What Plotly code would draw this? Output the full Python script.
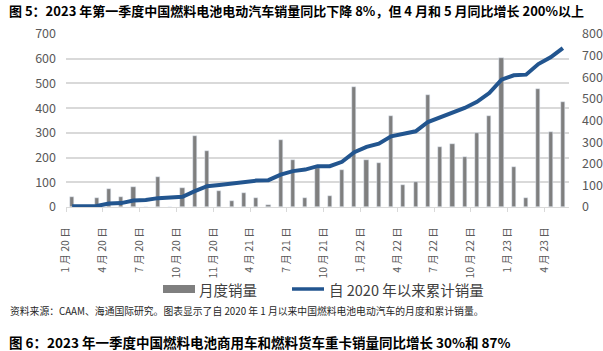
import plotly.graph_objects as go

# ---- data ----
months = ["1 月 20 日", "2 月 20 日", "3 月 20 日", "4 月 20 日", "5 月 20 日", "6 月 20 日",
          "7 月 20 日", "8 月 20 日", "9 月 20 日", "10 月 20 日", "11 月 20 日", "12 月 20 日",
          "1 月 21 日", "2 月 21 日", "3 月 21 日", "4 月 21 日", "5 月 21 日", "6 月 21 日",
          "7 月 21 日", "8 月 21 日", "9 月 21 日", "10 月 21 日", "11 月 21 日", "12 月 21 日",
          "1 月 22 日", "2 月 22 日", "3 月 22 日", "4 月 22 日", "5 月 22 日", "6 月 22 日",
          "7 月 22 日", "8 月 22 日", "9 月 22 日", "10 月 22 日", "11 月 22 日", "12 月 22 日",
          "1 月 23 日", "2 月 23 日", "3 月 23 日", "4 月 23 日", "5 月 23 日"]
monthly_sales = [41, 0, 36, 72, 41, 82, 2, 122, 2, 76, 288, 228, 63, 26, 56, 37, 7, 273, 192, 37,
                 157, 45, 148, 484, 192, 179, 369, 91, 102, 454, 243, 253, 201, 299, 369, 604, 162,
                 37, 479, 304, 423]
cumulative_sales = [4, 4, 5, 16, 18, 30, 32, 41, 42, 47, 73, 96, 102, 109, 115, 122, 124, 150, 166,
                    173, 189, 189, 209, 253, 278, 293, 327, 340, 350, 393, 416, 435, 458, 486, 527,
                    589, 609, 612, 661, 692, 735]
# tick labels as printed on the reference (every third month)
tick_labels = ["1 月 20 日", "4 月 20 日", "7 月 20 日", "10 月 20 日", "11 月 20 日", "4 月 21 日",
               "7 月 21 日", "10 月 21 日", "1 月 22 日", "4 月 22 日", "7 月 22 日", "10 月 22 日",
               "1 月 23 日", "4 月 23 日"]
left_ticks = [0, 100, 200, 300, 400, 500, 600, 700]
right_ticks = [0, 100, 200, 300, 400, 500, 600, 700, 800]

bar_name = "月度销量"
line_name = "自 2020 年以来累计销量"
title = "图 5：2023 年第一季度中国燃料电池电动汽车销量同比下降 8%，但 4 月和 5 月同比增长 200%以上"
source = "资料来源：CAAM、海通国际研究。图表显示了自 2020 年 1 月以来中国燃料电池电动汽车的月度和累计销量。"
next_title = "图 6：2023 年一季度中国燃料电池商用车和燃料货车重卡销量同比增长 30%和 87%"

# ---- styling ----
W, H = 603, 351
L, R, T, B = 66, 34, 34, 144
BAR_C = "#7f7f7f"
LINE_C = "#22558f"
GRID_C = "#d9d9d9"
TICK_C = "#595959"
FONT = "Noto Sans CJK SC"

x_idx = list(range(len(months)))
tickvals = [i * 3 - 0.5 for i in range(len(tick_labels))]

def px_x(p):
    return (p - L) / (W - L - R)

def px_y(p):
    return (H - B - p) / (H - T - B)

fig = go.Figure()
fig.add_trace(go.Bar(x=x_idx, y=monthly_sales, name=bar_name, marker_color=BAR_C,
                     width=0.34, yaxis="y", showlegend=False, hovertext=months))
fig.add_trace(go.Scatter(x=x_idx, y=cumulative_sales, name=line_name, mode="lines",
                         line=dict(color=LINE_C, width=4), yaxis="y2", showlegend=False,
                         hovertext=months))

fig.update_layout(
    width=W, height=H,
    margin=dict(l=L, r=R, t=T, b=B, pad=0, autoexpand=False),
    paper_bgcolor="white", plot_bgcolor="white",
    font=dict(family=FONT, color=TICK_C),
    bargap=0,
    xaxis=dict(range=[-0.5, len(months) - 0.5], tickmode="array", tickvals=tickvals,
               ticktext=tick_labels, tickangle=-90, tickfont=dict(size=10.5, color=TICK_C),
               ticks="outside", ticklen=4, tickcolor=GRID_C, showline=True, linecolor=GRID_C,
               linewidth=1, showgrid=False, zeroline=False, fixedrange=True,
               ticklabelstandoff=11, automargin=False),
    yaxis=dict(range=[0, 700], tickvals=left_ticks, tickfont=dict(size=12.5, color=TICK_C),
               showgrid=True, gridcolor=GRID_C, gridwidth=1.5, zeroline=False, showline=False,
               ticks="", ticklabelstandoff=9, automargin=False),
    yaxis2=dict(range=[0, 800], tickvals=right_ticks, overlaying="y", side="right",
                tickfont=dict(size=12.5, color=TICK_C), showgrid=False, zeroline=False,
                showline=False, ticks="", ticklabelstandoff=12, automargin=False),
)

# manual legend
fig.add_shape(type="rect", xref="paper", yref="paper", x0=px_x(163), x1=px_x(195),
              y0=px_y(293), y1=px_y(285), fillcolor=BAR_C, line=dict(width=0))
fig.add_shape(type="line", xref="paper", yref="paper", x0=px_x(292), x1=px_x(324),
              y0=px_y(289), y1=px_y(289), line=dict(color=LINE_C, width=3.5))
fig.add_annotation(text=bar_name, xref="paper", yref="paper", x=px_x(197), y=px_y(289),
                   xanchor="left", yanchor="middle", showarrow=False,
                   font=dict(size=14.5, color="#404040", family=FONT))
fig.add_annotation(text=line_name, xref="paper", yref="paper", x=px_x(327), y=px_y(289),
                   xanchor="left", yanchor="middle", showarrow=False,
                   font=dict(size=14.5, color="#404040", family=FONT))

# titles and source
fig.add_annotation(text="<b>" + title + "</b>", xref="paper", yref="paper", x=px_x(7), y=px_y(10),
                   xanchor="left", yanchor="middle", showarrow=False,
                   font=dict(size=13, color="#000000", family=FONT))
fig.add_annotation(text=source, xref="paper", yref="paper", x=px_x(8), y=px_y(311),
                   xanchor="left", yanchor="middle", showarrow=False,
                   font=dict(size=9.8, color="#262626", family=FONT))
fig.add_annotation(text="<b>" + next_title + "</b>", xref="paper", yref="paper", x=px_x(7),
                   y=px_y(342), xanchor="left", yanchor="middle", showarrow=False,
                   font=dict(size=13.5, color="#000000", family=FONT))

fig.write_html("out.html")
